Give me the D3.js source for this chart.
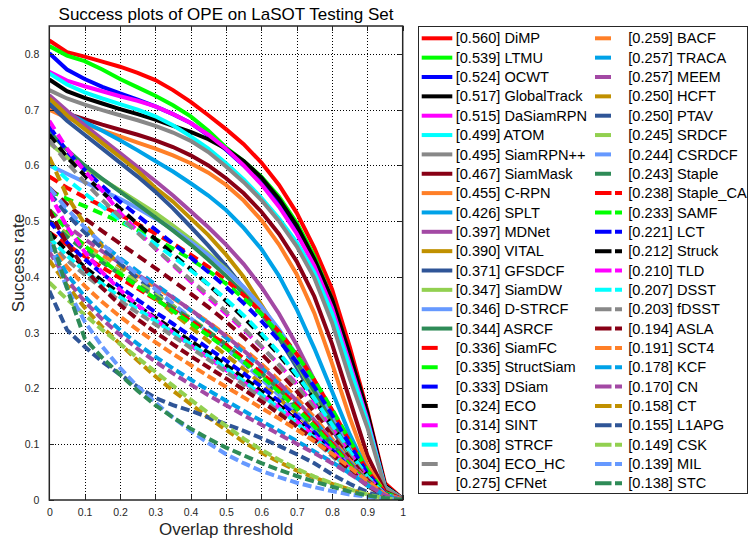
<!DOCTYPE html>
<html>
<head>
<meta charset="utf-8">
<style>
body { margin: 0; background: #fff; }
svg { display: block; font-family: "Liberation Sans", Arial, sans-serif; }
.grid line { stroke: #000; stroke-width: 1; stroke-dasharray: 1,2; shape-rendering: crispEdges; }
.axis path { display: none; }
.axis line { stroke: #262626; shape-rendering: crispEdges; }
.axis text { fill: #262626; font-size: 10.5px; }
</style>
</head>
<body>
<svg width="748" height="542"></svg>
<script src="https://cdn.jsdelivr.net/npm/d3@7/dist/d3.min.js"></script>
<script>
// overlap thresholds (x) and tick labels
var thresholds = [0,0.05,0.1,0.15,0.2,0.25,0.3,0.35,0.4,0.45,0.5,0.55,0.6,0.65,0.7,0.75,0.8,0.85,0.9,0.95,1];
var xTicks = [0,0.1,0.2,0.3,0.4,0.5,0.6,0.7,0.8,0.9,1];
var yTicks = [0,0.1,0.2,0.3,0.4,0.5,0.6,0.7,0.8];

var trackers = ["DiMP","LTMU","OCWT","GlobalTrack","DaSiamRPN","ATOM","SiamRPN++","SiamMask",
  "C-RPN","SPLT","MDNet","VITAL","GFSDCF","SiamDW","D-STRCF","ASRCF",
  "SiamFC","StructSiam","DSiam","ECO","SINT","STRCF","ECO_HC","CFNet",
  "BACF","TRACA","MEEM","HCFT","PTAV","SRDCF","CSRDCF","Staple",
  "Staple_CA","SAMF","LCT","Struck","TLD","DSST","fDSST","ASLA",
  "SCT4","KCF","CN","CT","L1APG","CSK","MIL","STC"];
var scores = [0.560,0.539,0.524,0.517,0.515,0.499,0.495,0.467,
  0.455,0.426,0.397,0.390,0.371,0.347,0.346,0.344,
  0.336,0.335,0.333,0.324,0.314,0.308,0.304,0.275,
  0.259,0.257,0.257,0.250,0.250,0.245,0.244,0.243,
  0.238,0.233,0.221,0.212,0.210,0.207,0.203,0.194,
  0.191,0.178,0.170,0.158,0.155,0.149,0.139,0.138];

// success rate at each threshold
var DiMP = [0.824,0.803,0.795,0.786,0.777,0.766,0.753,0.735,0.714,0.690,0.665,0.638,0.605,0.565,0.515,0.452,0.378,0.275,0.160,0.030,0.002];
var LTMU = [0.814,0.797,0.787,0.772,0.755,0.740,0.725,0.708,0.688,0.662,0.632,0.608,0.580,0.544,0.497,0.437,0.360,0.258,0.150,0.025,0.002];
var OCWT = [0.801,0.772,0.755,0.741,0.729,0.718,0.706,0.692,0.676,0.654,0.628,0.600,0.568,0.530,0.484,0.425,0.350,0.250,0.148,0.024,0.002];
var GlobalTrack = [0.754,0.733,0.721,0.711,0.701,0.692,0.682,0.671,0.660,0.647,0.630,0.608,0.578,0.540,0.492,0.432,0.360,0.262,0.157,0.026,0.002];
var DaSiamRPN = [0.768,0.752,0.742,0.733,0.724,0.716,0.706,0.692,0.676,0.655,0.630,0.600,0.566,0.526,0.478,0.420,0.345,0.245,0.145,0.023,0.002];
var ATOM = [0.765,0.745,0.731,0.720,0.710,0.700,0.688,0.672,0.652,0.630,0.604,0.575,0.542,0.505,0.462,0.408,0.335,0.238,0.140,0.023,0.002];
var SiamRPNpp = [0.735,0.720,0.709,0.699,0.690,0.681,0.671,0.659,0.644,0.624,0.598,0.570,0.538,0.500,0.455,0.398,0.318,0.218,0.130,0.022,0.002];
var SiamMask = [0.705,0.693,0.683,0.673,0.664,0.655,0.645,0.633,0.618,0.600,0.577,0.550,0.517,0.477,0.428,0.365,0.280,0.180,0.080,0.015,0.001];
var CRPN = [0.700,0.685,0.674,0.663,0.652,0.641,0.630,0.618,0.604,0.587,0.565,0.537,0.502,0.458,0.405,0.335,0.245,0.148,0.062,0.012,0.001];
var SPLT = [0.715,0.695,0.678,0.662,0.645,0.627,0.608,0.589,0.568,0.546,0.520,0.488,0.450,0.402,0.342,0.272,0.195,0.118,0.052,0.011,0.001];
var MDNet = [0.726,0.698,0.672,0.647,0.622,0.597,0.572,0.546,0.518,0.489,0.458,0.423,0.382,0.334,0.278,0.215,0.155,0.095,0.045,0.010,0.001];
var VITAL = [0.720,0.690,0.665,0.640,0.615,0.590,0.560,0.535,0.505,0.475,0.440,0.400,0.350,0.300,0.245,0.190,0.135,0.080,0.035,0.008,0.001];
var GFSDCF = [0.710,0.680,0.655,0.630,0.605,0.580,0.553,0.523,0.490,0.456,0.420,0.380,0.337,0.290,0.238,0.183,0.128,0.075,0.033,0.008,0.001];
var SiamDW = [0.640,0.615,0.595,0.575,0.555,0.535,0.515,0.492,0.468,0.442,0.414,0.380,0.340,0.295,0.245,0.190,0.135,0.082,0.038,0.009,0.001];
var DSTRCF = [0.600,0.585,0.570,0.555,0.540,0.523,0.505,0.485,0.463,0.439,0.412,0.382,0.347,0.306,0.260,0.205,0.148,0.092,0.043,0.010,0.001];
var ASRCF = [0.660,0.628,0.600,0.576,0.553,0.530,0.507,0.483,0.458,0.431,0.402,0.370,0.334,0.293,0.247,0.195,0.140,0.086,0.040,0.009,0.001];
var SiamFC = [0.580,0.560,0.543,0.527,0.511,0.495,0.478,0.460,0.440,0.418,0.394,0.367,0.337,0.302,0.262,0.215,0.162,0.105,0.052,0.013,0.001];
var StructSiam = [0.555,0.540,0.527,0.513,0.499,0.484,0.468,0.451,0.432,0.411,0.388,0.362,0.333,0.299,0.260,0.215,0.163,0.107,0.054,0.013,0.001];
var DSiam = [0.670,0.625,0.592,0.563,0.535,0.510,0.485,0.460,0.435,0.409,0.382,0.353,0.321,0.286,0.247,0.203,0.153,0.099,0.048,0.011,0.001];
var ECO = [0.655,0.615,0.582,0.552,0.523,0.495,0.468,0.441,0.414,0.386,0.357,0.327,0.295,0.260,0.222,0.180,0.134,0.087,0.043,0.010,0.001];
var SINT = [0.680,0.630,0.590,0.555,0.515,0.482,0.451,0.421,0.392,0.363,0.334,0.305,0.275,0.243,0.208,0.170,0.128,0.084,0.041,0.010,0.001];
var STRCF = [0.605,0.575,0.550,0.526,0.503,0.481,0.459,0.436,0.412,0.387,0.360,0.331,0.299,0.264,0.225,0.182,0.135,0.087,0.042,0.010,0.001];
var ECO_HC = [0.645,0.605,0.570,0.538,0.508,0.479,0.451,0.423,0.395,0.367,0.338,0.308,0.276,0.242,0.205,0.165,0.122,0.079,0.038,0.009,0.001];
var CFNet = [0.560,0.530,0.505,0.482,0.460,0.438,0.416,0.393,0.370,0.346,0.320,0.292,0.262,0.230,0.195,0.157,0.116,0.075,0.036,0.008,0.001];
var BACF = [0.500,0.478,0.458,0.439,0.420,0.401,0.382,0.362,0.341,0.319,0.296,0.271,0.244,0.215,0.183,0.148,0.110,0.071,0.034,0.008,0.001];
var TRACA = [0.550,0.515,0.486,0.459,0.434,0.410,0.387,0.364,0.340,0.316,0.291,0.265,0.237,0.208,0.176,0.142,0.105,0.068,0.033,0.008,0.001];
var MEEM = [0.520,0.492,0.468,0.446,0.425,0.404,0.384,0.363,0.341,0.318,0.294,0.268,0.240,0.210,0.178,0.143,0.106,0.068,0.033,0.008,0.001];
var HCFT = [0.615,0.545,0.495,0.455,0.420,0.390,0.362,0.335,0.310,0.285,0.260,0.235,0.209,0.182,0.154,0.124,0.092,0.060,0.029,0.007,0.001];
var PTAV = [0.550,0.512,0.480,0.451,0.424,0.398,0.373,0.348,0.323,0.298,0.272,0.246,0.219,0.191,0.161,0.130,0.097,0.063,0.030,0.007,0.001];
var SRDCF = [0.500,0.475,0.452,0.431,0.410,0.390,0.369,0.348,0.326,0.303,0.279,0.253,0.226,0.197,0.166,0.133,0.098,0.063,0.030,0.007,0.001];
var CSRDCF = [0.560,0.522,0.489,0.459,0.431,0.404,0.378,0.352,0.326,0.300,0.273,0.245,0.217,0.188,0.157,0.126,0.093,0.060,0.029,0.007,0.001];
var Staple = [0.500,0.472,0.448,0.426,0.405,0.385,0.365,0.345,0.324,0.302,0.279,0.254,0.228,0.199,0.168,0.135,0.100,0.064,0.031,0.007,0.001];
var Staple_CA = [0.480,0.458,0.437,0.417,0.398,0.379,0.360,0.341,0.321,0.300,0.278,0.254,0.228,0.200,0.169,0.136,0.101,0.065,0.031,0.007,0.001];
var SAMF = [0.520,0.485,0.456,0.430,0.406,0.383,0.361,0.339,0.317,0.295,0.272,0.248,0.222,0.194,0.164,0.132,0.098,0.063,0.030,0.007,0.001];
var LCT = [0.500,0.462,0.432,0.406,0.382,0.359,0.337,0.316,0.294,0.272,0.250,0.227,0.203,0.177,0.150,0.121,0.090,0.058,0.028,0.006,0.001];
var Struck = [0.480,0.446,0.418,0.393,0.370,0.348,0.327,0.306,0.285,0.264,0.242,0.219,0.195,0.170,0.143,0.115,0.085,0.055,0.026,0.006,0.001];
var TLD = [0.550,0.490,0.445,0.408,0.377,0.349,0.324,0.300,0.277,0.255,0.233,0.211,0.189,0.166,0.141,0.115,0.087,0.057,0.028,0.007,0.001];
var DSST = [0.470,0.438,0.411,0.387,0.364,0.342,0.321,0.300,0.279,0.258,0.236,0.213,0.189,0.164,0.138,0.111,0.083,0.054,0.026,0.006,0.001];
var fDSST = [0.460,0.430,0.404,0.380,0.357,0.336,0.315,0.294,0.273,0.252,0.230,0.207,0.183,0.158,0.132,0.106,0.079,0.051,0.025,0.006,0.001];
var ASLA = [0.520,0.460,0.415,0.380,0.350,0.324,0.301,0.279,0.258,0.238,0.218,0.198,0.177,0.155,0.132,0.108,0.082,0.054,0.026,0.006,0.001];
var SCT4 = [0.460,0.418,0.384,0.355,0.329,0.305,0.283,0.262,0.242,0.222,0.203,0.184,0.165,0.146,0.126,0.105,0.083,0.059,0.034,0.010,0.001];
var KCF = [0.460,0.405,0.365,0.333,0.305,0.280,0.257,0.236,0.216,0.197,0.178,0.160,0.142,0.124,0.106,0.087,0.068,0.048,0.027,0.008,0.000];
var CN = [0.445,0.395,0.356,0.324,0.296,0.271,0.248,0.227,0.207,0.188,0.170,0.152,0.135,0.118,0.101,0.084,0.066,0.047,0.027,0.008,0.000];
var CT = [0.430,0.385,0.345,0.310,0.280,0.250,0.222,0.196,0.172,0.148,0.126,0.104,0.085,0.068,0.053,0.040,0.029,0.019,0.010,0.003,0.000];
var L1APG = [0.375,0.305,0.275,0.248,0.225,0.203,0.183,0.170,0.160,0.148,0.136,0.124,0.111,0.097,0.082,0.066,0.046,0.029,0.014,0.004,0.000];
var CSK = [0.390,0.360,0.332,0.305,0.280,0.255,0.230,0.205,0.180,0.156,0.133,0.110,0.090,0.072,0.056,0.042,0.030,0.019,0.010,0.003,0.000];
var MIL = [0.460,0.380,0.320,0.275,0.237,0.203,0.175,0.148,0.124,0.102,0.082,0.066,0.052,0.041,0.031,0.023,0.016,0.010,0.006,0.002,0.000];
var STC = [0.480,0.380,0.290,0.255,0.225,0.196,0.170,0.148,0.128,0.110,0.094,0.080,0.066,0.054,0.043,0.033,0.024,0.015,0.008,0.003,0.000];

var curves = [DiMP,LTMU,OCWT,GlobalTrack,DaSiamRPN,ATOM,SiamRPNpp,SiamMask,
  CRPN,SPLT,MDNet,VITAL,GFSDCF,SiamDW,DSTRCF,ASRCF,
  SiamFC,StructSiam,DSiam,ECO,SINT,STRCF,ECO_HC,CFNet,
  BACF,TRACA,MEEM,HCFT,PTAV,SRDCF,CSRDCF,Staple,
  Staple_CA,SAMF,LCT,Struck,TLD,DSST,fDSST,ASLA,
  SCT4,KCF,CN,CT,L1APG,CSK,MIL,STC];

var palette = ["#ff0000","#00ff00","#0000ff","#000000","#ff00ff","#00ffff","#888888","#880015",
  "#ff7f27","#00a2e8","#a349a4","#c09000","#2f5597","#92d050","#6699ff","#2e8b57"];
var plotDash = [null, "10,6", "9,4"];
var legendDash = [null, "16,16", "16.5,3.5,7,10"];

var svg = d3.select("svg");
var plotL = 49.3, plotR = 402.7, plotT = 26, plotB = 500;

var x = d3.scaleLinear().domain([0, 1]).range([plotL, plotR]);
var y = d3.scaleLinear().domain([0, 0.85]).range([plotB, plotT]);

svg.append("rect").attr("width", 748).attr("height", 542).attr("fill", "#fff");

// grid
var grid = svg.append("g").attr("class", "grid");
grid.selectAll(".gx").data(xTicks.slice(1, -1)).enter().append("line")
    .attr("x1", function(d) { return Math.round(x(d)) + 0.5; })
    .attr("x2", function(d) { return Math.round(x(d)) + 0.5; })
    .attr("y1", plotT).attr("y2", plotB);
grid.selectAll(".gy").data(yTicks.slice(1)).enter().append("line")
    .attr("y1", function(d) { return Math.round(y(d)) + 0.5; })
    .attr("y2", function(d) { return Math.round(y(d)) + 0.5; })
    .attr("x1", plotL).attr("x2", plotR);

svg.append("clipPath").attr("id", "clip")
  .append("rect").attr("x", plotL).attr("y", plotT).attr("width", plotR - plotL).attr("height", plotB - plotT);

var line = d3.line()
    .x(function(d, i) { return x(thresholds[i]); })
    .y(function(d) { return y(d); });

svg.append("g").attr("clip-path", "url(#clip)")
  .selectAll("path").data(curves).enter().append("path")
    .attr("d", line)
    .attr("fill", "none")
    .attr("stroke", function(d, i) { return palette[i % 16]; })
    .attr("stroke-width", 4)
    .attr("stroke-dasharray", function(d, i) { return plotDash[Math.floor(i / 16)]; });

// axes (ticks inward on all sides)
svg.append("g").attr("class", "axis")
    .attr("transform", "translate(0," + plotB + ")")
    .call(d3.axisBottom(x).tickValues(xTicks).tickSize(-5).tickPadding(9).tickFormat(d3.format("~g")));
svg.append("g").attr("class", "axis")
    .attr("transform", "translate(0," + plotT + ")")
    .call(d3.axisTop(x).tickValues(xTicks).tickSize(-5).tickFormat(""));
svg.append("g").attr("class", "axis")
    .attr("transform", "translate(" + plotL + ",0)")
    .call(d3.axisLeft(y).tickValues(yTicks).tickSize(-5).tickPadding(10).tickFormat(d3.format("~g")));
svg.append("g").attr("class", "axis")
    .attr("transform", "translate(" + plotR + ",0)")
    .call(d3.axisRight(y).tickValues(yTicks).tickSize(-5).tickFormat(""));

svg.append("rect")
    .attr("x", plotL).attr("y", plotT).attr("width", plotR - plotL).attr("height", plotB - plotT)
    .attr("fill", "none").attr("stroke", "#262626").attr("stroke-width", 1.5);

// titles
svg.append("text").attr("x", (plotL + plotR) / 2).attr("y", 20)
    .attr("text-anchor", "middle").attr("font-size", 17).attr("fill", "#000")
    .text("Success plots of OPE on LaSOT Testing Set");
svg.append("text").attr("x", (plotL + plotR) / 2).attr("y", 535)
    .attr("text-anchor", "middle").attr("font-size", 17).attr("fill", "#262626")
    .text("Overlap threshold");
svg.append("text").attr("transform", "translate(24," + (plotT + plotB) / 2 + ") rotate(-90)")
    .attr("text-anchor", "middle").attr("font-size", 17).attr("fill", "#262626")
    .text("Success rate");

// legend
var legend = svg.append("g");
legend.append("rect")
    .attr("x", 418.5).attr("y", 26.5).attr("width", 329).attr("height", 467)
    .attr("fill", "#fff").attr("stroke", "#262626").attr("stroke-width", 1);

var item = legend.selectAll(".item").data(trackers).enter().append("g")
    .attr("transform", function(d, i) {
      var col = i < 24 ? 0 : 1, row = i % 24;
      return "translate(" + (col ? 595 : 421.7) + "," + (38.3 + row * 19.35) + ")";
    });
item.append("line")
    .attr("x1", 0).attr("x2", 30.6).attr("y1", 0).attr("y2", 0)
    .attr("stroke", function(d, i) { return palette[i % 16]; })
    .attr("stroke-width", 4)
    .attr("stroke-dasharray", function(d, i) { return legendDash[Math.floor(i / 16)]; });
item.append("text")
    .attr("x", function(d, i) { return i < 24 ? 34 : 33.3; })
    .attr("dy", "0.35em")
    .attr("font-size", 14.6).attr("fill", "#000")
    .text(function(d, i) { return "[" + scores[i].toFixed(3) + "] " + d; });
</script>
</body>
</html>
